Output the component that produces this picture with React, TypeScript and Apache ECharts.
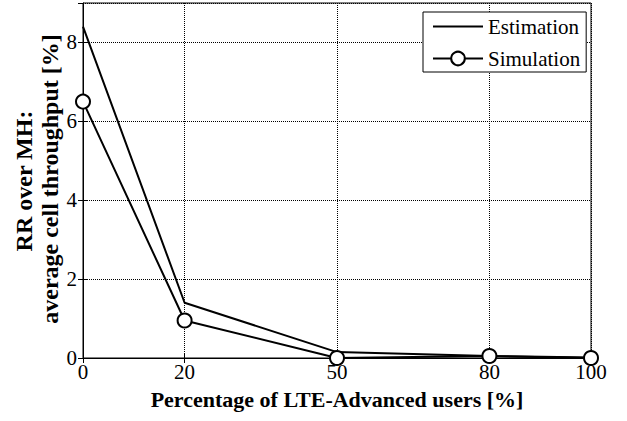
import React, { useEffect, useRef } from "react";
import * as echarts from "echarts";

const xValues = [0, 20, 50, 80, 100];
const estimation = [8.4, 1.4, 0.15, 0.05, 0.01];
const simulation = [6.5, 0.95, 0.0, 0.05, 0.0];
const xTicks = [0, 20, 50, 80, 100];
const seriesNames = ["Estimation", "Simulation"];
const xTitle = "Percentage of LTE-Advanced users [%]";
const yTitleLines = ["RR over MH:", "average cell throughput [%]"];

const FONT = "Liberation Serif";

export default function App() {
  const ref = useRef<HTMLDivElement>(null);
  useEffect(() => {
    if (!ref.current) return;
    const chart = echarts.init(ref.current, undefined, { renderer: "svg" });
    const dotted = { show: true, lineStyle: { color: "#000", type: "dotted" as const, width: 1 } };
    const titleStyle = (text: string) => ({
      text,
      fill: "#000",
      font: `bold 24px ${FONT}`,
      align: "center",
      verticalAlign: "middle",
    });
    chart.setOption({
      animation: false,
      backgroundColor: "#fff",
      textStyle: { fontFamily: FONT },
      grid: {
        left: 83,
        right: 36,
        top: 3,
        bottom: 63,
        outerBoundsMode: "none",
        containLabel: false,
        show: true,
        borderColor: "#000",
        borderWidth: 1,
        backgroundColor: "transparent",
      },
      graphic: [
        { type: "text", x: 24, y: 181, rotation: Math.PI / 2, style: titleStyle(yTitleLines[0]) },
        { type: "text", x: 50, y: 179, rotation: Math.PI / 2, style: titleStyle(yTitleLines[1]) },
      ],
      legend: {
        orient: "vertical",
        left: 423,
        top: 12,
        padding: [4, 6, 3, 9],
        itemGap: 11,
        itemWidth: 50,
        itemHeight: 17,
        backgroundColor: "#fff",
        borderColor: "#000",
        borderWidth: 1,
        borderRadius: 0,
        textStyle: { fontFamily: FONT, fontSize: 21, color: "#000" },
        data: [
          { name: seriesNames[0], icon: "path://M0,0 L50,0 L50,2 L0,2 Z" },
          { name: seriesNames[1] },
        ],
      },
      xAxis: [
        {
          type: "value",
          min: 0,
          max: 100,
          name: xTitle,
          nameLocation: "middle",
          nameGap: 30,
          nameTextStyle: { fontFamily: FONT, fontSize: 22, fontWeight: "bold", color: "#000" },
          axisLine: { show: true, lineStyle: { color: "#000", width: 1 } },
          axisTick: { show: true, inside: true, length: 5, customValues: xTicks, lineStyle: { color: "#000" } },
          axisLabel: { customValues: xTicks, fontFamily: FONT, fontSize: 21, color: "#000", margin: 3 },
          splitLine: dotted,
        },
        {
          type: "value",
          position: "top",
          min: 0,
          max: 100,
          axisLine: { show: false },
          axisTick: { show: true, inside: true, length: 5, customValues: xTicks, lineStyle: { color: "#000" } },
          axisLabel: { show: false },
          splitLine: { show: false },
        },
      ],
      yAxis: [
        {
          type: "value",
          min: 0,
          max: 9,
          interval: 2,
          axisLine: { show: true, lineStyle: { color: "#000", width: 1 } },
          axisTick: { show: true, inside: true, length: 5, lineStyle: { color: "#000" } },
          axisLabel: { fontFamily: FONT, fontSize: 21, color: "#000", margin: 6, showMaxLabel: false },
          splitLine: dotted,
        },
        {
          type: "value",
          position: "right",
          min: 0,
          max: 9,
          interval: 2,
          axisLine: { show: false },
          axisTick: { show: true, inside: true, length: 5, lineStyle: { color: "#000" } },
          axisLabel: { show: false },
          splitLine: { show: false },
        },
      ],
      series: [
        {
          name: seriesNames[0],
          type: "line",
          data: xValues.map((x, i) => [x, estimation[i]]),
          symbol: "none",
          lineStyle: { color: "#000", width: 2 },
          itemStyle: { color: "#000" },
          z: 3,
        },
        {
          name: seriesNames[1],
          type: "line",
          data: xValues.map((x, i) => [x, simulation[i]]),
          symbol: "circle",
          symbolSize: 14,
          lineStyle: { color: "#000", width: 2 },
          itemStyle: { color: "#fff", borderColor: "#000", borderWidth: 2 },
          z: 4,
        },
      ],
    });
    return () => chart.dispose();
  }, []);
  return (
    <div
      ref={ref}
      style={{ position: "fixed", left: 0, top: 0, width: 627, height: 421 }}
    />
  );
}
